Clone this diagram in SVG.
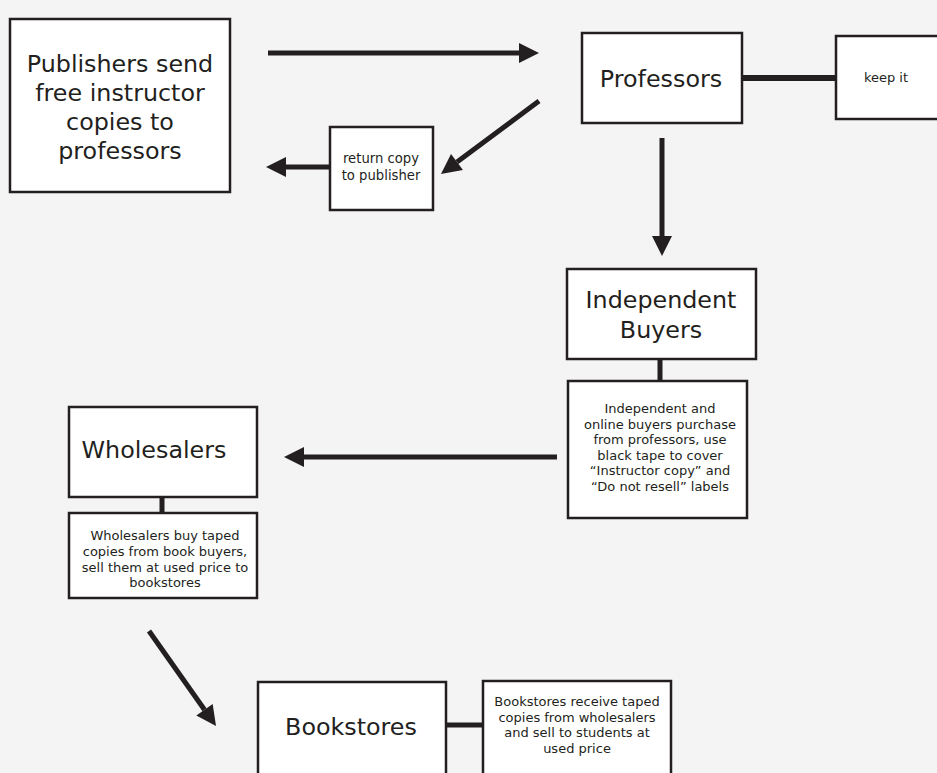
<svg xmlns="http://www.w3.org/2000/svg" width="937" height="773" viewBox="0 0 937 773">
<defs>
<style>
.box{fill:#fff;stroke:#231f20;stroke-width:2.5}
.big{font-family:"DejaVu Sans","Liberation Sans",sans-serif;font-size:23.8px;fill:#231f20;text-anchor:middle}
.small{font-family:"DejaVu Sans","Liberation Sans",sans-serif;font-size:13px;fill:#231f20;text-anchor:middle}
.conn{stroke:#231f20;stroke-width:5;fill:none}
.link{stroke:#231f20;stroke-width:6;fill:none}
</style>
<marker id="ah" markerUnits="userSpaceOnUse" markerWidth="20" markerHeight="20" viewBox="0 -10 20 20" refX="0" refY="0" orient="auto" overflow="visible">
<path d="M0,-10 L20,0 L0,10 z" fill="#231f20"/>
</marker>
</defs>
<rect width="937" height="773" fill="#f4f4f4"/>
<g id="connectors">
<line class="conn" x1="268" y1="53" x2="519" y2="53" marker-end="url(#ah)"/>
<line class="conn" x1="330" y1="167" x2="286" y2="167" marker-end="url(#ah)"/>
<line class="conn" x1="539" y1="101" x2="457" y2="162" marker-end="url(#ah)"/>
<line class="conn" x1="662" y1="138" x2="662" y2="236" marker-end="url(#ah)"/>
<line class="conn" x1="557" y1="457" x2="304" y2="457" marker-end="url(#ah)"/>
<line class="conn" x1="149" y1="631" x2="204.5" y2="709.7" marker-end="url(#ah)"/>
<line class="link" x1="742" y1="78" x2="836" y2="78"/>
<line class="conn" x1="660" y1="359" x2="660" y2="381"/>
<line class="conn" x1="162" y1="497" x2="162" y2="513"/>
<line class="conn" x1="446" y1="725" x2="483" y2="725"/>
</g>
<g id="publishers">
<rect class="box" x="10" y="19" width="220" height="173"/>
<text class="big" x="120" y="72"><tspan x="120" y="72">Publishers send</tspan><tspan x="120" y="101">free instructor</tspan><tspan x="120" y="130">copies to</tspan><tspan x="120" y="159">professors</tspan></text>
</g>
<g id="return-copy">
<rect class="box" x="330" y="127" width="103" height="83"/>
<text class="small" style="font-size:13.2px" x="381" y="163"><tspan x="381" y="163">return copy</tspan><tspan x="381" y="180">to publisher</tspan></text>
</g>
<g id="professors">
<rect class="box" x="582" y="33" width="160" height="90"/>
<text class="big" x="661" y="87">Professors</text>
</g>
<g id="keep-it">
<rect class="box" x="836" y="36" width="110" height="83"/>
<text class="small" x="886" y="82">keep it</text>
</g>
<g id="independent-buyers">
<rect class="box" x="567" y="269" width="189" height="90"/>
<text class="big" x="661" y="308"><tspan x="661" y="308">Independent</tspan><tspan x="661" y="338">Buyers</tspan></text>
</g>
<g id="independent-desc">
<rect class="box" x="568" y="381" width="179" height="137"/>
<text class="small" x="660" y="413"><tspan x="660" y="413">Independent and</tspan><tspan x="660" y="428.5">online buyers purchase</tspan><tspan x="660" y="444">from professors, use</tspan><tspan x="660" y="459.5">black tape to cover</tspan><tspan x="660" y="475">“Instructor copy” and</tspan><tspan x="660" y="490.5">“Do not resell” labels</tspan></text>
</g>
<g id="wholesalers">
<rect class="box" x="69" y="407" width="188" height="90"/>
<text class="big" x="154" y="458">Wholesalers</text>
</g>
<g id="wholesalers-desc">
<rect class="box" x="69" y="513" width="188" height="85"/>
<text class="small" x="165" y="540"><tspan x="165" y="540">Wholesalers buy taped</tspan><tspan x="165" y="556">copies from book buyers,</tspan><tspan x="165" y="571.5">sell them at used price to</tspan><tspan x="165" y="587">bookstores</tspan></text>
</g>
<g id="bookstores">
<rect class="box" x="258" y="682" width="188" height="100"/>
<text class="big" x="351" y="735">Bookstores</text>
</g>
<g id="bookstores-desc">
<rect class="box" x="483" y="681" width="188" height="100"/>
<text class="small" x="577" y="706"><tspan x="577" y="706">Bookstores receive taped</tspan><tspan x="577" y="721.5">copies from wholesalers</tspan><tspan x="577" y="737">and sell to students at</tspan><tspan x="577" y="752.5">used price</tspan></text>
</g>
</svg>
